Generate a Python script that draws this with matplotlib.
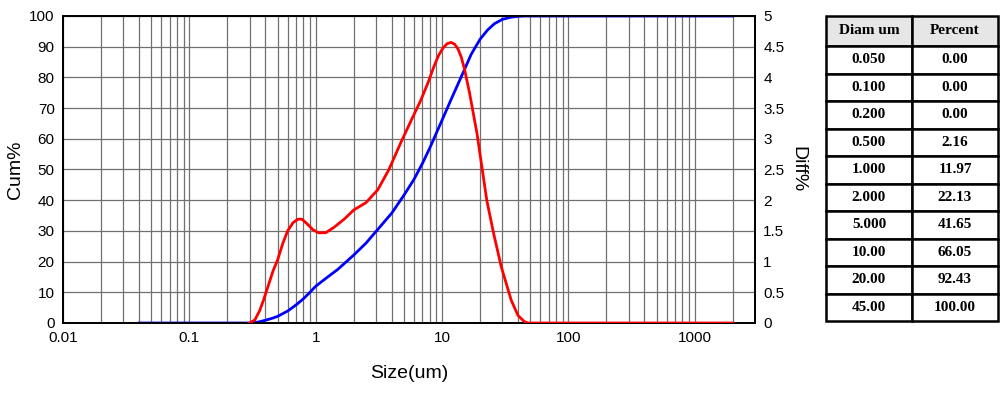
import matplotlib
matplotlib.use("Agg")
import matplotlib.pyplot as plt
from matplotlib.ticker import LogLocator, FixedLocator, NullFormatter

plt.rcParams['font.family'] = ['Liberation Sans', 'DejaVu Sans']

# Cumulative curve (left axis, Cum%)
cum_size = [0.04, 0.1, 0.2, 0.3, 0.35, 0.4, 0.45, 0.5, 0.6, 0.7, 0.8, 0.9, 1.0, 1.2, 1.5,
            2.0, 2.5, 3.0, 4.0, 5.0, 6.0, 7.0, 8.0, 10.0, 12.0, 15.0, 17.0, 20.0, 23.0,
            26.0, 30.0, 35.0, 40.0, 45.0, 100.0, 1000.0, 2000.0]
cum_pct = [0, 0, 0, 0, 0.3, 0.9, 1.5, 2.16, 3.9, 5.9, 7.9, 10.0, 11.97, 14.5, 17.5,
           22.13, 26.0, 29.8, 35.8, 41.65, 46.8, 52.0, 57.0, 66.05, 73.5, 82.4, 87.5, 92.43, 95.5,
           97.5, 98.9, 99.6, 99.9, 100, 100, 100, 100]

# Differential curve (right axis, Diff%)
diff_size = [0.3, 0.33, 0.36, 0.386, 0.42, 0.46, 0.5, 0.55, 0.6, 0.66, 0.72, 0.78, 0.85,
             0.95, 1.05, 1.2, 1.4, 1.7, 2.0, 2.5, 3.1, 3.8, 4.7, 5.7, 6.8, 7.8, 8.6, 9.4,
             10.2, 11.0, 11.8, 12.6, 13.4, 14.2, 15.0, 16.5, 18.9, 22.6, 25.6, 29.4, 35.3,
             40.0, 45.0, 48.0, 100.0, 1000.0, 2000.0]
diff_pct = [0, 0.05, 0.2, 0.37, 0.6, 0.85, 1.03, 1.3, 1.5, 1.63, 1.69, 1.69, 1.62,
            1.52, 1.47, 1.47, 1.56, 1.7, 1.84, 1.96, 2.17, 2.5, 2.93, 3.3, 3.63, 3.93, 4.17, 4.36,
            4.48, 4.55, 4.57, 4.54, 4.46, 4.33, 4.15, 3.75, 3.09, 2.0, 1.46, 0.92, 0.37,
            0.12, 0.02, 0, 0, 0, 0]

# Table
table_header = ["Diam um", "Percent"]
table_diam = ["0.050", "0.100", "0.200", "0.500", "1.000", "2.000", "5.000", "10.00", "20.00", "45.00"]
table_percent = ["0.00", "0.00", "0.00", "2.16", "11.97", "22.13", "41.65", "66.05", "92.43", "100.00"]

x_ticks = [0.01, 0.1, 1, 10, 100, 1000]
x_ticklabels = ["0.01", "0.1", "1", "10", "100", "1000"]
left_ticks = list(range(0, 101, 10))
right_ticks = [0, 0.5, 1, 1.5, 2, 2.5, 3, 3.5, 4, 4.5, 5]
right_ticklabels = ["0", "0.5", "1", "1.5", "2", "2.5", "3", "3.5", "4", "4.5", "5"]

W, H = 1002, 393
fig = plt.figure(figsize=(W / 100, H / 100), dpi=100)
ax = fig.add_axes([63 / W, 1 - 323 / H, (755 - 63) / W, (323 - 16) / H])
ax.set_xscale('log')
ax.set_xlim(0.01, 3000)
ax.set_ylim(0, 100)
ax.xaxis.set_major_locator(FixedLocator(x_ticks))
ax.set_xticklabels(x_ticklabels)
ax.xaxis.set_minor_locator(LogLocator(base=10, subs=range(2, 10), numticks=20))
ax.xaxis.set_minor_formatter(NullFormatter())
ax.set_yticks(left_ticks)
ax.grid(True, which='both', axis='x', color='#707070', lw=0.9)
ax.grid(True, which='major', axis='y', color='#707070', lw=0.9)
ax.tick_params(which='both', length=0, labelsize=11, pad=6)
for s in ax.spines.values():
    s.set_color('black')
    s.set_linewidth(1.3)

ax2 = ax.twinx()
ax2.set_ylim(0, 5)
ax2.set_yticks(right_ticks)
ax2.set_yticklabels(right_ticklabels)
ax2.tick_params(length=0, labelsize=11, pad=6)
for s in ax2.spines.values():
    s.set_linewidth(1.3)

ax.plot(cum_size, cum_pct, color='#0000ff', lw=2, zorder=3)
ax2.plot(diff_size, diff_pct, color='#ff0000', lw=2, zorder=4)

ax.set_xlabel("Size(um)", fontsize=14, labelpad=14)
ax.set_ylabel("Cum%", fontsize=14, labelpad=4)
ax2.set_ylabel("Diff%", fontsize=14, rotation=270, labelpad=16)

# Table on the right
tax = fig.add_axes([826 / W, 1 - 321 / H, (998 - 826) / W, (321 - 16) / H])
tax.axis('off')
rows = [table_header] + [[d, p] for d, p in zip(table_diam, table_percent)]
tbl = tax.table(cellText=rows, cellLoc='center', bbox=[0, 0, 1, 1])
tbl.auto_set_font_size(False)
n = len(rows)
hdr_h = 30 / 305
row_h = (1 - hdr_h) / (n - 1)
for (r, c), cell in tbl.get_celld().items():
    cell.set_linewidth(1.8)
    cell.set_edgecolor('black')
    cell.set_height(hdr_h if r == 0 else row_h)
    txt = cell.get_text()
    txt.set_fontfamily(['Liberation Serif', 'DejaVu Serif'])
    txt.set_fontweight('bold')
    txt.set_fontsize(11 if r == 0 else 11)
    if r == 0:
        cell.set_facecolor('#e6e6e6')

fig.savefig("out.png", dpi=100)
